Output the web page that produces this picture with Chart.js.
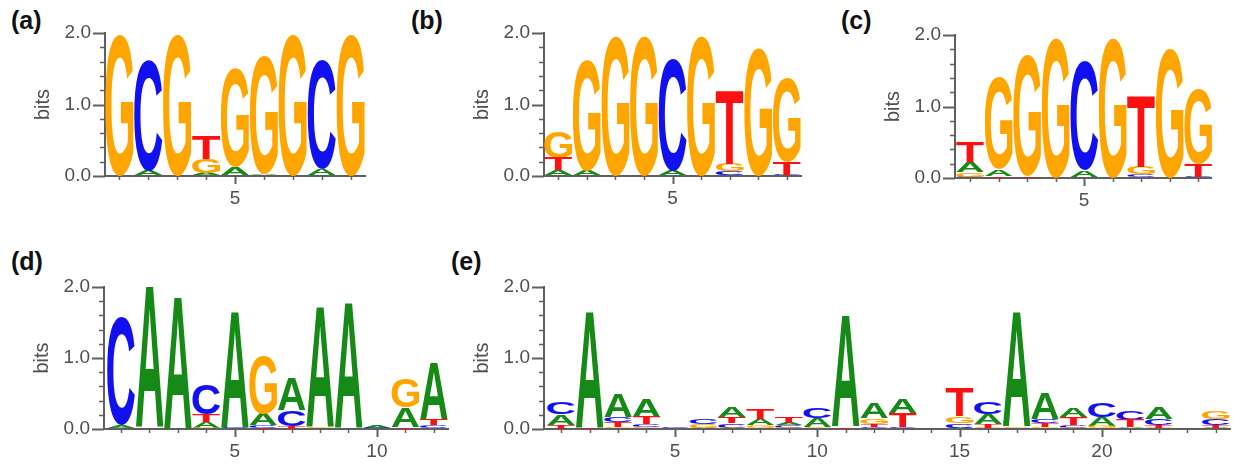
<!DOCTYPE html>
<html>
<head>
<meta charset="utf-8">
<script src="https://cdn.jsdelivr.net/npm/chart.js@4.4.1/dist/chart.umd.min.js"></script>
<style>
html,body{margin:0;padding:0;background:#fff;}
body{width:1233px;height:466px;position:relative;overflow:hidden;font-family:"Liberation Sans",Arial,sans-serif;}
.lbl{position:absolute;font-weight:bold;font-size:25px;line-height:25px;color:#111;white-space:nowrap;}
canvas{position:absolute;}
</style>
</head>
<body>
<script>
// ---------------- DATA (bits per letter, per position) ----------------
const letters = ['A', 'C', 'G', 'T'];
const panelLabels = ['(a)', '(b)', '(c)', '(d)', '(e)'];
const yTicks = [0, 0.2, 0.4, 0.6, 0.8, 1.0, 1.2, 1.4, 1.6, 1.8, 2.0];
const yMajorTicks = [0, 1, 2];
const yTickLabels = ['0.0', '1.0', '2.0'];
const yTitle = 'bits';
const xLabelEvery = 5;

// (a)
const posA = [1, 2, 3, 4, 5, 6, 7, 8, 9];
const a_A = [0, 0.07, 0, 0.04, 0.12, 0.03, 0, 0.09, 0];
const a_C = [0, 1.55, 0, 0, 0, 0, 0, 1.53, 0];
const a_G = [1.98, 0, 1.98, 0.2, 1.39, 1.66, 1.98, 0, 1.98];
const a_T = [0, 0, 0, 0.33, 0, 0, 0, 0, 0];

// (b)
const posB = [1, 2, 3, 4, 5, 6, 7, 8, 9];
const b_A = [0.08, 0.08, 0, 0, 0.08, 0, 0.02, 0, 0];
const b_C = [0, 0, 0, 0, 1.56, 0, 0.05, 0, 0.02];
const b_G = [0.37, 1.54, 1.97, 1.97, 0, 1.97, 0.1, 1.8, 1.18];
const b_T = [0.17, 0, 0, 0, 0, 0, 1.03, 0, 0.17];

// (c)
const posC = [1, 2, 3, 4, 5, 6, 7, 8, 9];
const c_A = [0.14, 0.09, 0, 0, 0.1, 0, 0, 0, 0];
const c_C = [0.02, 0, 0, 0, 1.52, 0, 0.05, 0, 0.02];
const c_G = [0.06, 1.29, 1.69, 1.97, 0, 1.97, 0.1, 1.82, 1.05];
const c_T = [0.28, 0.03, 0.03, 0, 0, 0, 0.99, 0, 0.18];

// (d)
const posD = [1, 2, 3, 4, 5, 6, 7, 8, 9, 10, 11, 12];
const d_A = [0.05, 1.98, 1.86, 0.08, 1.63, 0.16, 0.46, 1.69, 1.77, 0.03, 0.28, 0.80];
const d_C = [1.53, 0, 0, 0.43, 0.02, 0.04, 0.22, 0, 0, 0.02, 0, 0.05];
const d_G = [0, 0, 0, 0.02, 0, 0.82, 0, 0.03, 0, 0, 0.40, 0];
const d_T = [0, 0, 0, 0.10, 0, 0.02, 0.04, 0, 0, 0, 0.03, 0.08];

// (e)
const posE = [1, 2, 3, 4, 5, 6, 7, 8, 9, 10, 11, 12, 13, 14, 15, 16, 17, 18, 19, 20, 21, 22, 23, 24];
const e_A = [0.15, 1.64, 0.33, 0.25, 0.01, 0.02, 0.14, 0.09, 0.04, 0.12, 1.57, 0.21, 0.20, 0.01, 0.02, 0.14, 1.62, 0.36, 0.13, 0.12, 0.03, 0.17, 0, 0.02];
const e_C = [0.17, 0, 0.075, 0.04, 0.02, 0.08, 0.06, 0, 0.03, 0.14, 0, 0.03, 0.03, 0, 0.06, 0.16, 0.01, 0.06, 0.04, 0.20, 0.12, 0.09, 0, 0.09];
const e_G = [0, 0, 0.03, 0.03, 0, 0.05, 0.02, 0.05, 0.02, 0.03, 0, 0.08, 0, 0, 0.10, 0.02, 0.02, 0.03, 0.02, 0.04, 0, 0.02, 0, 0.11];
const e_T = [0.06, 0.02, 0.065, 0.10, 0, 0, 0.09, 0.15, 0.08, 0, 0.03, 0.04, 0.19, 0, 0.40, 0.05, 0, 0.05, 0.11, 0, 0.10, 0.03, 0, 0.03];

// ---------------- STYLE / LAYOUT ----------------
const letterColors = { A: '#168a16', C: '#1010f0', G: '#ffa500', T: '#ff1010' };
const axisColor = '#5f5f5f';
const textColor = '#4f4f4f';
const FONT = '"Liberation Sans", Arial, Helvetica, sans-serif';
Chart.defaults.font.family = FONT;

const panels = [
  { label: panelLabels[0], pos: posA, vals: { A: a_A, C: a_C, G: a_G, T: a_T }, L: 105, T: 33, R: 365, B: 176, xmin: 0.5, xmax: 9.5, lx: 11, ly: 8 },
  { label: panelLabels[1], pos: posB, vals: { A: b_A, C: b_C, G: b_G, T: b_T }, L: 544, T: 33, R: 801, B: 176, xmin: 0.5, xmax: 9.5, lx: 411, ly: 8 },
  { label: panelLabels[2], pos: posC, vals: { A: c_A, C: c_C, G: c_G, T: c_T }, L: 955, T: 35, R: 1211, B: 178, xmin: 0.47, xmax: 9.45, lx: 841, ly: 8 },
  { label: panelLabels[3], pos: posD, vals: { A: d_A, C: d_C, G: d_G, T: d_T }, L: 104, T: 287, R: 448, B: 429, xmin: 0.4, xmax: 12.5, lx: 11, ly: 249 },
  { label: panelLabels[4], pos: posE, vals: { A: e_A, C: e_C, G: e_G, T: e_T }, L: 544, T: 287, R: 1230, B: 429, xmin: 0.4, xmax: 24.5, lx: 451, ly: 249 }
];

const Y_AXIS_W = 75, PAD_TOP = 15, X_AXIS_H = 40, PAD_RIGHT = 3;

// draws each floating bar as a stretched letter glyph
const logoPlugin = {
  id: 'logoLetters',
  afterDatasetsDraw(chart) {
    const ctx = chart.ctx;
    ctx.save();
    ctx.font = 'bold 200px ' + FONT;
    ctx.textAlign = 'left';
    ctx.textBaseline = 'alphabetic';
    chart.data.datasets.forEach((ds, di) => {
      const meta = chart.getDatasetMeta(di);
      const L = ds.label;
      const m = ctx.measureText(L);
      const gw = m.actualBoundingBoxLeft + m.actualBoundingBoxRight;
      const gh = m.actualBoundingBoxAscent + m.actualBoundingBoxDescent;
      meta.data.forEach(el => {
        const p = el.getProps(['x', 'y', 'base', 'width'], true);
        const top = Math.min(p.y, p.base), bot = Math.max(p.y, p.base);
        const h = bot - top;
        if (h <= 0.05) return;
        const w = p.width;
        ctx.save();
        ctx.fillStyle = letterColors[L];
        ctx.translate(p.x - w / 2, top);
        ctx.scale(w / gw, h / gh);
        ctx.fillText(L, m.actualBoundingBoxLeft, m.actualBoundingBoxAscent);
        ctx.restore();
      });
    });
    ctx.restore();
  }
};

// tick marks (major/minor) drawn from the chart's own scales
const tickPlugin = {
  id: 'logoTicks',
  afterDraw(chart) {
    const ctx = chart.ctx;
    const xs = chart.scales.x, ys = chart.scales.y;
    const left = chart.chartArea.left, bottom = chart.chartArea.bottom;
    ctx.save();
    ctx.strokeStyle = axisColor;
    ys.ticks.forEach(t => {
      const major = yMajorTicks.some(v => Math.abs(v - t.value) < 1e-9);
      const y = Math.round(ys.getPixelForValue(t.value)) + 0.5;
      ctx.lineWidth = major ? 2 : 1.5;
      ctx.beginPath();
      ctx.moveTo(left - (major ? 12 : 5), y);
      ctx.lineTo(left, y);
      ctx.stroke();
    });
    xs.ticks.forEach(t => {
      const major = t.value % xLabelEvery === 0;
      const x = Math.round(xs.getPixelForValue(t.value)) + 0.5;
      ctx.lineWidth = major ? 2 : 1.5;
      ctx.beginPath();
      ctx.moveTo(x, bottom);
      ctx.lineTo(x, bottom + (major ? 8 : 4));
      ctx.stroke();
    });
    ctx.restore();
  }
};

panels.forEach(pn => {
  const lab = document.createElement('div');
  lab.className = 'lbl';
  lab.style.left = pn.lx + 'px';
  lab.style.top = pn.ly + 'px';
  lab.textContent = pn.label;
  document.body.appendChild(lab);

  const cx = pn.L - Y_AXIS_W, cy = pn.T - PAD_TOP;
  const cw = Math.round(pn.R - cx + PAD_RIGHT), ch = Math.round(pn.B - cy + X_AXIS_H);
  const cv = document.createElement('canvas');
  cv.width = cw; cv.height = ch;
  cv.style.left = cx + 'px'; cv.style.top = cy + 'px';
  cv.style.width = cw + 'px'; cv.style.height = ch + 'px';
  document.body.appendChild(cv);

  // floating intervals: letters stacked smallest at bottom, largest on top
  const intervals = { A: [], C: [], G: [], T: [] };
  pn.pos.forEach((p, i) => {
    const order = letters.map(l => ({ l, h: pn.vals[l][i] })).filter(o => o.h > 0).sort((a, b) => a.h - b.h);
    let acc = 0;
    order.forEach(o => { intervals[o.l].push({ x: p, y: [acc, acc + o.h] }); acc += o.h; });
  });

  const datasets = letters.map(l => ({
    label: l,
    data: intervals[l],
    grouped: false,
    backgroundColor: 'rgba(0,0,0,0)',
    borderWidth: 0,
    barPercentage: 0.97,
    categoryPercentage: 1.0
  }));

  new Chart(cv, {
    type: 'bar',
    data: { datasets },
    options: {
      responsive: false,
      animation: false,
      devicePixelRatio: 1,
      layout: { padding: { top: PAD_TOP, right: PAD_RIGHT, left: 0, bottom: 0 } },
      plugins: { legend: { display: false }, tooltip: { enabled: false }, title: { display: false } },
      scales: {
        x: {
          type: 'linear', min: pn.xmin, max: pn.xmax, offset: false,
          grid: { display: true, drawOnChartArea: false, offset: false, tickLength: 8, tickColor: 'rgba(0,0,0,0)' },
          border: { display: true, color: axisColor, width: 2 },
          ticks: {
            autoSkip: false, maxRotation: 0, minRotation: 0, padding: 3, color: textColor,
            font: { size: 19 },
            callback: v => (v % xLabelEvery === 0 ? String(v) : '')
          },
          afterBuildTicks: s => { s.ticks = pn.pos.map(v => ({ value: v })); },
          afterFit: s => { s.height = X_AXIS_H; }
        },
        y: {
          type: 'linear', min: 0, max: 2,
          grid: { display: true, drawOnChartArea: false, tickLength: 12, tickColor: 'rgba(0,0,0,0)' },
          border: { display: true, color: axisColor, width: 2 },
          ticks: {
            autoSkip: false, padding: 2, color: textColor, font: { size: 19 },
            callback: v => {
              const k = yMajorTicks.findIndex(m => Math.abs(m - v) < 1e-9);
              return k >= 0 ? yTickLabels[k] : '';
            }
          },
          title: { display: true, text: yTitle, color: textColor, font: { size: 20 }, padding: { top: 1, bottom: 0 } },
          afterBuildTicks: s => { s.ticks = yTicks.map(v => ({ value: v })); },
          afterFit: s => { s.width = Y_AXIS_W; }
        }
      }
    },
    plugins: [logoPlugin, tickPlugin]
  });
});
</script>
</body>
</html>
